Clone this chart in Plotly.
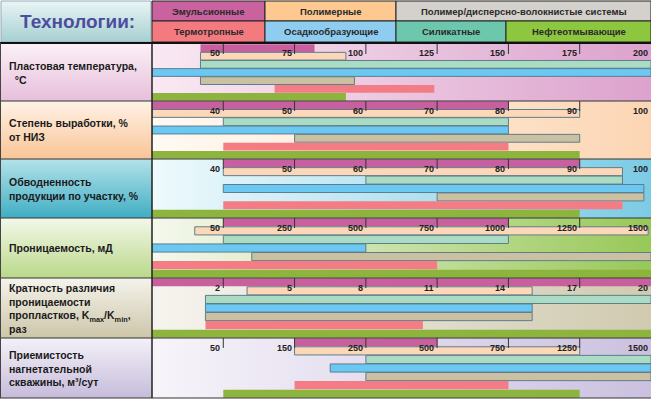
import numpy as np
import plotly.graph_objects as go

W, H = 651, 404

# ---------------- data ----------------
techs = ["Эмульсионные", "Полимерные", "Силикатные", "Осадкообразующие",
         "Полимер/дисперсно-волокнистые системы", "Термотропные", "Нефтеотмывающие"]

legend_top = ["Эмульсионные", "Полимерные", "Полимер/дисперсно-волокнистые системы"]
legend_bottom = ["Термотропные", "Осадкообразующие", "Силикатные", "Нефтеотмывающие"]

param_labels = [
    "Пластовая температура,<br>  °С",
    "Степень выработки, %<br>от НИЗ",
    "Обводненность<br>продукции по участку, %",
    "Проницаемость, мД",
    "Кратность различия<br>проницаемости<br>пропластков, K<sub>max</sub>/K<sub>min</sub>,<br>раз",
    "Приемистость<br>нагнетательной<br>скважины, м³/сут",
]

# 1. reservoir temperature, °C
temp_min = 25
temp_ticks = [50, 75, 100, 125, 150, 175, 200]
temp_start = [42, 42, 42, 25, 42, 68, 25]
temp_end = [82, 93, 200, 200, 96, 124, 93]

# 2. recovery degree, %
recov_min = 30
recov_ticks = [40, 50, 60, 70, 80, 90, 100]
recov_start = [30, 30, 40, 30, 50, 40, 30]
recov_end = [80, 90, 80, 80, 90, 80, 90]

# 3. water cut, %
water_min = 30
water_ticks = [40, 50, 60, 70, 80, 90, 100]
water_start = [40, 40, 60, 40, 70, 40, 30]
water_end = [90, 96, 96, 99, 99, 96, 90]

# 4. permeability, mD
perm_min = 0
perm_ticks = [50, 250, 500, 750, 1000, 1250, 1500]
perm_start = [50, 30, 50, 0, 130, 0, 0]
perm_end = [1000, 1490, 1000, 500, 1500, 750, 1500]

# 5. permeability contrast Kmax/Kmin
ratio_min = 0
ratio_ticks = [2, 5, 8, 11, 14, 17, 20]
ratio_start = [0, 3, 1.5, 1.5, 1.5, 1.5, 0]
ratio_end = [20, 15, 20, 15, 15, 10.4, 20]

# 6. injectivity, m3/day
inj_min = 0
inj_ticks = [50, 150, 250, 500, 750, 1250, 1500]
inj_start = [150, 150, 250, 200, 250, 150, 50]
inj_end = [500, 1250, 1500, 1500, 1500, 750, 1250]

rows_data = [
    (temp_min, temp_ticks, temp_start, temp_end),
    (recov_min, recov_ticks, recov_start, recov_end),
    (water_min, water_ticks, water_start, water_end),
    (perm_min, perm_ticks, perm_start, perm_end),
    (ratio_min, ratio_ticks, ratio_start, ratio_end),
    (inj_min, inj_ticks, inj_start, inj_end),
]

# ---------------- style ----------------
bar_colors = ["#c8609f", "#fdd8b8", "#a9dcc2", "#6ac8f2", "#c9c1a1", "#f47c84", "#8db53d"]
bar_line_w = [0, 1, 1, 1, 1, 0, 0]
legend_top_colors = ["#c9629f", "#fdc990", "#d4d0cb"]
legend_bottom_colors = ["#f47a80", "#8ecdf0", "#6dc7ad", "#8dc63f"]
legend_top_x = [152, 265, 396, 651]
legend_bottom_x = [152, 265, 396, 506, 651]

row_bg = [("#f9e9f3", "#dca2cd"), ("#fffaf4", "#fcd6b4"), ("#effafc", "#7ccbe5"),
          ("#f5f8ee", "#98c858"), ("#f6f4ee", "#d0cab0"), ("#f7f4fa", "#cbc1df")]
cell_bg = [("#fbf0f7", "#e7bfdb"), ("#fff2e6", "#f9c597"), ("#b4e2ea", "#40aec3"),
           ("#f3f8ea", "#bad88a"), ("#f5f3ec", "#ccc6a9"), ("#f4f1f8", "#c6bcdb")]

ROW_T = [44, 101, 159, 218, 278, 338]
ROW_B = [101, 159, 218, 278, 338, 398]
LEFT = 152
FONT = "Liberation Sans, Arial, sans-serif"
DARK = "#2a2a2a"

fig = go.Figure()
layout = dict(
    width=W, height=H, margin=dict(l=0, r=0, t=0, b=0, pad=0),
    paper_bgcolor="white", plot_bgcolor="rgba(0,0,0,0)",
    showlegend=False, barmode="overlay",
    xaxis=dict(domain=[0, 1], range=[0, W], visible=False, fixedrange=True),
    yaxis=dict(domain=[0, 1], range=[H, 0], visible=False, fixedrange=True),
)
shapes, annotations = [], []


def grad_rect(x0, x1, y0, y1, c0, c1, kind="vertical"):
    fig.add_trace(go.Scatter(
        x=[x0, x1, x1, x0, x0], y=[y0, y0, y1, y1, y0], mode="none", fill="toself",
        fillgradient=dict(type=kind, colorscale=[[0, c0], [1, c1]]),
        xaxis="x", yaxis="y", hoverinfo="skip"))


def px(xv):
    return xv / W


def py(yv):
    return 1 - yv / H


# header box
grad_rect(1, 151, 1, 42, "#a6cfd1", "#e9f5f5")
shapes.append(dict(type="rect", xref="x", yref="y", x0=1, x1=151, y0=1, y1=42,
                   line=dict(color="#9ab", width=1)))
annotations.append(dict(x=77, y=21, xref="x", yref="y", text="<b>Технологии:</b>",
                        xanchor="center", yanchor="middle", showarrow=False,
                        font=dict(family=FONT, size=19, color="#4d4d9e")))

# left column cells + row backgrounds (drawn on the bottom pixel layer)
for r in range(6):
    grad_rect(0, LEFT, ROW_T[r], ROW_B[r], cell_bg[r][1], cell_bg[r][0])
    grad_rect(LEFT, W, ROW_T[r], ROW_B[r], row_bg[r][0], row_bg[r][1], kind="horizontal")
    annotations.append(dict(x=7, y=(ROW_T[r] + ROW_B[r]) / 2, xref="x", yref="y",
                            text="<b>" + param_labels[r] + "</b>", showarrow=False,
                            xanchor="left", yanchor="middle", align="left",
                            font=dict(family=FONT, size=10.5, color="#1a1a1a")))

# legend header boxes
for i, name in enumerate(legend_top):
    shapes.append(dict(type="rect", xref="paper", yref="paper", x0=px(legend_top_x[i]),
                       x1=px(legend_top_x[i + 1]), y0=py(21), y1=py(1),
                       fillcolor=legend_top_colors[i], line=dict(color="#222", width=1)))
    annotations.append(dict(x=px((legend_top_x[i] + legend_top_x[i + 1]) / 2), y=py(11),
                            xref="paper", yref="paper", text="<b>" + name + "</b>",
                            xanchor="center", yanchor="middle",
                            showarrow=False, font=dict(family=FONT, size=9.5, color=DARK)))
for i, name in enumerate(legend_bottom):
    shapes.append(dict(type="rect", xref="paper", yref="paper", x0=px(legend_bottom_x[i]),
                       x1=px(legend_bottom_x[i + 1]), y0=py(42), y1=py(21),
                       fillcolor=legend_bottom_colors[i], line=dict(color="#222", width=1)))
    annotations.append(dict(x=px((legend_bottom_x[i] + legend_bottom_x[i + 1]) / 2), y=py(31.5),
                            xref="paper", yref="paper", text="<b>" + name + "</b>",
                            xanchor="center", yanchor="middle",
                            showarrow=False, font=dict(family=FONT, size=9.5, color=DARK)))

# rows
ypos = np.arange(len(techs))
for r, (vmin, ticks, start, end) in enumerate(rows_data):
    n = r + 2
    xa, ya = f"x{n}", f"y{n}"
    layout[f"xaxis{n}"] = dict(domain=[LEFT / W, 1], range=[-1, 6], visible=False, fixedrange=True)
    layout[f"yaxis{n}"] = dict(domain=[py(ROW_B[r]), py(ROW_T[r])], range=[6.5, -0.5],
                               visible=False, fixedrange=True)
    scale_v = [vmin] + list(ticks)
    scale_p = list(range(-1, len(ticks)))

    def pos(v):
        return np.interp(np.asarray(v, dtype=float), scale_v, scale_p)

    s, e = pos(start), pos(end)
    fig.add_trace(go.Bar(
        orientation="h", y=ypos, x=e - s, base=s, width=0.95, xaxis=xa, yaxis=ya,
        marker=dict(color=bar_colors, line=dict(color="#5f7d8c", width=bar_line_w)),
        hoverinfo="skip"))
    rh = ROW_B[r] - ROW_T[r]
    for i, t in enumerate(ticks):
        if i < len(ticks) - 1:
            shapes.append(dict(type="line", xref=xa, yref=f"{ya} domain", x0=i, x1=i,
                               y0=1, y1=1 - 10 / rh, line=dict(color="#333", width=1)))
        annotations.append(dict(x=i, y=1 - 9.5 / rh, xref=xa, yref=f"{ya} domain",
                                text=f"<b>{t}</b>", showarrow=False, xanchor="right",
                                yanchor="middle", xshift=-1,
                                font=dict(family=FONT, size=9, color="#222")))

# grid lines
shapes.append(dict(type="line", xref="paper", yref="paper", x0=0, x1=1, y0=py(43), y1=py(43),
                   line=dict(color="#111", width=2)))
for yb in ROW_B:
    shapes.append(dict(type="line", xref="paper", yref="paper", x0=0, x1=1, y0=py(yb), y1=py(yb),
                       line=dict(color="#333", width=1)))
shapes.append(dict(type="line", xref="paper", yref="paper", x0=px(LEFT), x1=px(LEFT),
                   y0=py(43), y1=py(ROW_B[-1]), line=dict(color="#222", width=1.5)))
shapes.append(dict(type="line", xref="paper", yref="paper", x0=px(0.5), x1=px(0.5),
                   y0=py(43), y1=py(ROW_B[-1]), line=dict(color="#444", width=1)))

layout["shapes"] = shapes
layout["annotations"] = annotations
fig.update_layout(**layout)
fig.write_html("out.html", config={"displayModeBar": False},
               post_script="document.body.style.margin='0';")
